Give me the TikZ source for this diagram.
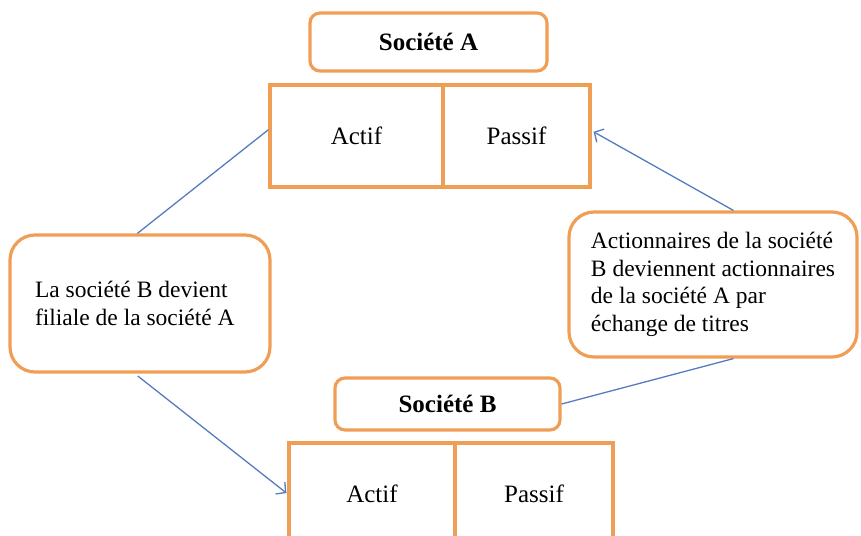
\documentclass[tikz,border=0pt]{standalone}
\usepackage{fontspec}
\setmainfont{Liberation Serif}
\usetikzlibrary{arrows.meta,calc}
\definecolor{boxorange}{RGB}{240,158,85}
\definecolor{linkblue}{RGB}{84,124,190}
\begin{document}
\begin{tikzpicture}[x=1pt,y=-1pt,
  frame/.style={draw=boxorange,line width=3.2pt,fill=white},
  titlebox/.style={frame,rounded corners=10pt,inner sep=0pt,font=\fontsize{25}{30}\selectfont\bfseries},
  cell/.style={frame,inner sep=0pt,minimum height=102pt,font=\fontsize{25}{30}\selectfont},
  note/.style={frame,rounded corners=25pt,inner sep=0pt,align=flush left,font=\fontsize{23.5}{27.5}\selectfont},
  link/.style={draw=linkblue,line width=1.3pt},
  arrowlink/.style={link,-{Straight Barb[length=7pt,width=15pt,line width=1.3pt]}}]
\useasboundingbox (0,0) rectangle (861,535);
\clip (0,0) rectangle (861,535);
% Société A
\node[titlebox,minimum width=237pt,minimum height=58pt] (socA) at (428.5,42) {Société A};
\node[cell,minimum width=173pt] (actifA) at (356.5,136) {Actif};
\node[cell,minimum width=147pt] (passifA) at (516.5,136) {Passif};
% Société B
\node[titlebox,minimum width=225pt,minimum height=52pt] (socB) at (447.5,404) {Société B};
\node[cell,minimum width=166pt] (actifB) at (372,494) {Actif};
\node[cell,minimum width=158pt] (passifB) at (534,494) {Passif};
% notes
\node[note,inner xsep=25pt,text width=210pt,minimum height=137pt] (lbox) at (140,303.5)
  {La société B devient\\filiale de la société A};
\node[note,minimum width=288pt,minimum height=145pt] (rbox) at (713,284.5)
  {Actionnaires de la société\\B deviennent actionnaires\\de la société A par\\échange de titres};
% connectors
\draw[link] ($(lbox.north west)!0.49!(lbox.north east)$) -- ($(actifA.north west)!0.44!(actifA.south west)$);
\draw[arrowlink] ($(rbox.north west)!0.57!(rbox.north east)$) -- ($(passifA.north east)!0.46!(passifA.south east)+(2,0)$);
\draw[link] ($(rbox.south west)!0.57!(rbox.south east)$) -- (socB.east);
\draw[arrowlink,shorten <=4pt] ($(lbox.south west)!0.48!(lbox.south east)$) -- ($(actifB.west)+(-1,-1)$);
\end{tikzpicture}
\end{document}
